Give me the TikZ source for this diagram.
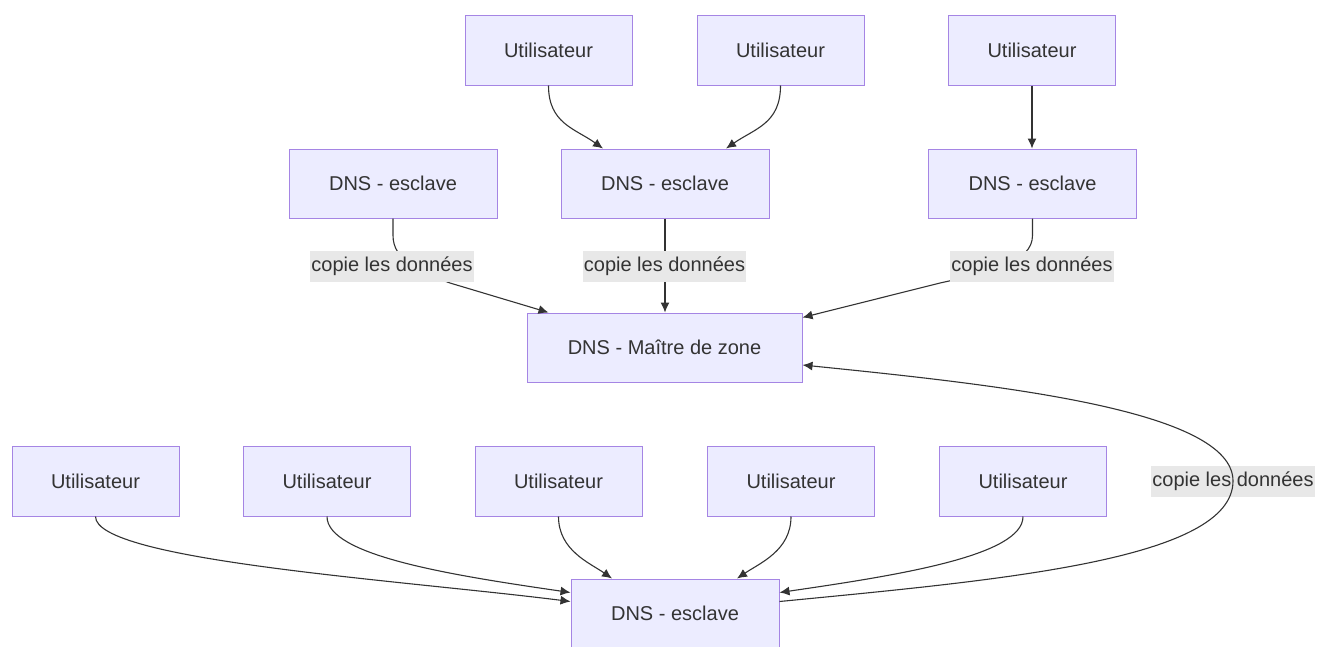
\documentclass[tikz,border=0pt]{standalone}
\usepackage{fontspec}
\setmainfont{Liberation Sans}
\usetikzlibrary{arrows.meta,calc}
\definecolor{boxfill}{HTML}{ECECFF}
\definecolor{boxline}{HTML}{A585E4}
\definecolor{txt}{HTML}{333333}
\definecolor{edge}{HTML}{333333}
\definecolor{lblbg}{HTML}{E8E8E8}
\tikzset{
  box/.style={draw=boxline, line width=1pt, fill=boxfill, text=txt, inner sep=0pt,
    font=\fontsize{20}{24}\selectfont},
  user/.style={box, minimum width=167pt, minimum height=70pt},
  slave/.style={box, minimum width=208pt, minimum height=69pt},
  master/.style={box, minimum width=275pt, minimum height=69pt},
  lbl/.style={fill=lblbg, text=txt, inner xsep=1pt, inner ysep=0pt, minimum height=31pt,
    font=\fontsize{20}{24}\selectfont},
  conn/.style={draw=edge, line width=1.1pt, -{Latex[length=10pt,width=9pt]}},
}
\begin{document}
\begin{tikzpicture}[x=1pt,y=-1pt]
\useasboundingbox (0,0) rectangle (1319,646);
\clip (0,0) rectangle (1319,646);
% nodes
\node[user] (U1) at (548.5,50) {Utilisateur};
\node[user] (U2) at (780.5,50) {Utilisateur};
\node[user] (U3) at (1032,50) {Utilisateur};
\node[slave] (S1) at (393,183.5) {DNS - esclave};
\node[slave] (S2) at (665,183.5) {DNS - esclave};
\node[slave] (S3) at (1032.5,183.5) {DNS - esclave};
\node[master] (M) at (664.5,347.5) {DNS - Maître de zone};
\node[user] (B1) at (95.5,481) {Utilisateur};
\node[user] (B2) at (327,481) {Utilisateur};
\node[user] (B3) at (558.5,481) {Utilisateur};
\node[user] (B4) at (791,481) {Utilisateur};
\node[user] (B5) at (1023,481) {Utilisateur};
\node[slave] (E) at (675,613.5) {DNS - esclave};
% top users -> slave
\draw[conn] (U1.south) .. controls ($(U1.south)+(0,38)$) and ($(S2.north)+(-90,-20)$) .. ($(S2.north)+(-62,0)$);
\draw[conn] (U2.south) .. controls ($(U2.south)+(0,38)$) and ($(S2.north)+(90,-20)$) .. ($(S2.north)+(61,0)$);
\draw[conn] (U3) -- (U3 |- S3.north);
% slaves -> master
\draw[conn] (S1.south) -- ++(0,17) .. controls ++(0,25) and (420,272) .. (450,283) -- ($(M.north)+(-116,0)$);
\draw[conn] (S2) -- (S2 |- M.north);
\draw[conn] (S3.south) -- ++(0,17) .. controls ++(0,27) and (990,272) .. (940,283) -- ($(M.north east)+(0,5)$);
\node[lbl] (L1) at (392,266.5) {copie les données};
\node[lbl] (L2) at (664.5,266.5) {copie les données};
\node[lbl] (L3) at (1032,266.5) {copie les données};
% bottom users -> slave
\draw[conn] (B1.south) .. controls ($(B1.south)+(0,44)$) and (400,580) .. ($(E.north west)+(0,23)$);
\draw[conn] (B2.south) .. controls ($(B2.south)+(0,39)$) and (450,575) .. ($(E.north west)+(0,14)$);
\draw[conn] (B3.south) .. controls ($(B3.south)+(0,34)$) and (590,563) .. ($(E.north)+(-63,0)$);
\draw[conn] (B4.south) .. controls ($(B4.south)+(0,34)$) and (760,563) .. ($(E.north)+(62,0)$);
\draw[conn] (B5.south) .. controls ($(B5.south)+(0,39)$) and (900,575) .. ($(E.north east)+(0,14)$);
% slave -> master
\node[lbl] (L4) at (1233,481) {copie les données};
\draw[conn] ($(E.north east)+(0,23)$) .. controls (1000,580) and (1233,560) .. (1233,481)
  .. controls (1233,410) and (1000,385) .. ($(M.east)+(0,17.5)$);
\end{tikzpicture}
\end{document}
